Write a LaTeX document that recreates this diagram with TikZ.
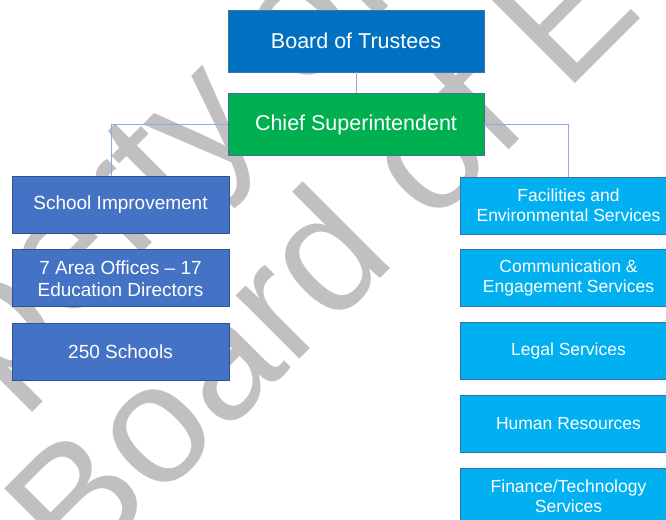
\documentclass[tikz,border=0pt]{standalone}
\usepackage{fontspec}
\setmainfont{Liberation Sans}
\usepackage{xcolor}
\usetikzlibrary{positioning}
\definecolor{trusteeblue}{HTML}{0070C0}
\definecolor{chiefgreen}{HTML}{00B050}
\definecolor{unitblue}{HTML}{4472C4}
\definecolor{serviceblue}{HTML}{00B0F0}
\definecolor{edgeblue}{HTML}{41719C}
\definecolor{unitedge}{HTML}{2F528F}
\definecolor{serviceedge}{HTML}{3A6EA5}
\definecolor{linkblue}{HTML}{8FAADC}
\definecolor{stampgray}{HTML}{C0C0C0}

\begin{document}
\begin{tikzpicture}[
  x=1pt, y=-1pt,
  node distance=16pt,
  box/.style={draw, align=center, text=white, inner sep=0pt, line width=0.8pt},
  headbox/.style={box, minimum width=256pt, minimum height=62pt, font=\fontsize{21.5}{25}\selectfont},
  unitbox/.style={box, fill=unitblue, draw=unitedge, minimum width=217pt, minimum height=57pt, font=\fontsize{19}{22}\selectfont},
  servicebox/.style={box, fill=serviceblue, draw=serviceedge, minimum width=217pt, minimum height=57pt, font=\fontsize{17.5}{20}\selectfont},
  stamp/.style={anchor=base west, inner sep=0pt, rotate=45, text=stampgray, font=\fontsize{170}{190}\selectfont},
  link/.style={draw=linkblue, line width=0.9pt}
]
\useasboundingbox (0,0) rectangle (666,519);
\clip (0,0) rectangle (666,519);
% watermark behind everything
\node[stamp] (stampone) at (-187.5,582.5) {Property of};
\node[stamp] (stamptwo) at (77.5,581.5) {Board of Education};
% head of the chart
\node[headbox, fill=trusteeblue, draw=edgeblue] (board) at (356,41) {Board of Trustees};
\node[headbox, fill=chiefgreen, draw=edgeblue, below=21pt of board] (chief) {Chief Superintendent};
% school side
\node[unitbox] (school) at (120.5,204.5) {School Improvement};
\node[unitbox, below=of school] (area) {7 Area Offices -- 17\\Education Directors};
\node[unitbox, below=of area] (schools) {250 Schools};
% service side
\node[servicebox] (facilities) at (568.5,205.5) {Facilities and\\Environmental Services};
\node[servicebox, below=15pt of facilities] (comms) {Communication \&\\Engagement Services};
\node[servicebox, below=15pt of comms] (legal) {Legal Services};
\node[servicebox, below=15pt of legal] (hr) {Human Resources};
\node[servicebox, below=15pt of hr] (finance) {Finance/Technology\\Services};
\draw[link] (board) -- (chief);
\draw[link] (chief.west) -| ([xshift=-9.5pt]school.north);
\draw[link] (chief.east) -| (facilities.north);
\end{tikzpicture}
\end{document}
